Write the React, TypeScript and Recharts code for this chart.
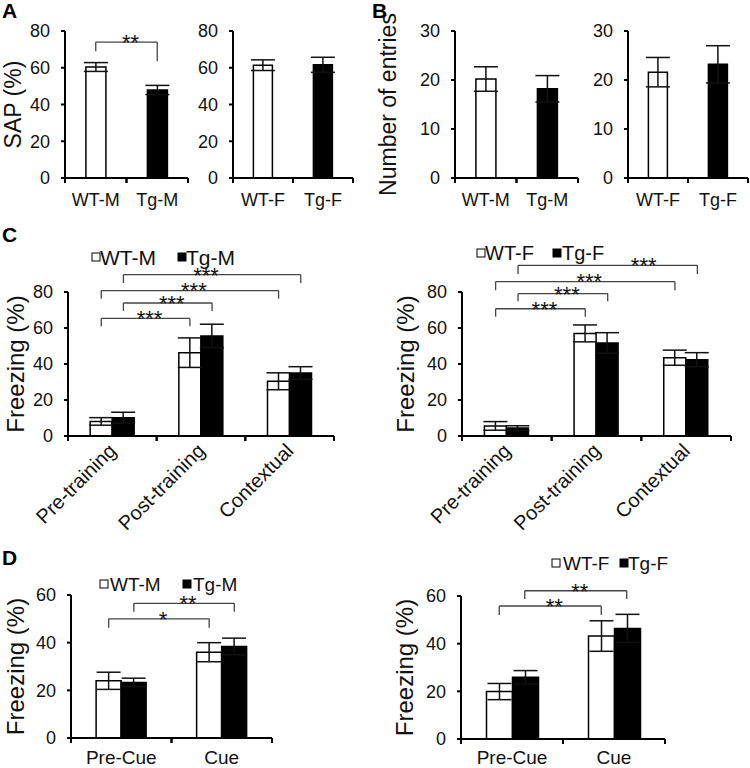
import { Bar, BarChart, Cell, ErrorBar, ReferenceLine, XAxis, YAxis } from "recharts";

const FONT = "'Liberation Sans', Arial, Helvetica, sans-serif";
const INK = "#111";

// A: spontaneous alternation (SAP %)
const groupsM = ["WT-M", "Tg-M"];
const groupsF = ["WT-F", "Tg-F"];
const sapM = [60.4, 47.9];
const sapMErr = [2.4, 2.5];
const sapF = [61.4, 61.6];
const sapFErr = [2.9, 4.1];

// B: number of entries
const entriesM = [20.2, 18.2];
const entriesMErr = [2.5, 2.7];
const entriesF = [21.6, 23.2];
const entriesFErr = [3.0, 3.8];

// C: contextual fear conditioning
const phases = ["Pre-training", "Post-training", "Contextual"];
const ctxWtM = [8.1, 46.3, 30.4];
const ctxWtMErr = [2.1, 8.2, 4.7];
const ctxTgM = [10.2, 55.6, 35.0];
const ctxTgMErr = [3.0, 6.5, 3.5];
const ctxWtF = [5.6, 57.0, 43.5];
const ctxWtFErr = [2.4, 4.7, 4.2];
const ctxTgF = [4.4, 51.7, 42.4];
const ctxTgFErr = [1.3, 5.7, 3.9];

// D: cued fear conditioning
const cues = ["Pre-Cue", "Cue"];
const cueWtM = [24.0, 36.0];
const cueWtMErr = [3.6, 4.0];
const cueTgM = [23.3, 38.4];
const cueTgMErr = [1.8, 3.5];
const cueWtF = [19.9, 43.2];
const cueWtFErr = [3.4, 6.4];
const cueTgF = [25.9, 46.4];
const cueTgFErr = [2.8, 5.9];

const ticks80 = [0, 20, 40, 60, 80];
const ticks30 = [0, 10, 20, 30];
const ticks60 = [0, 20, 40, 60];

// significance brackets: from/to category index, series index, bracket level and end levels
type Sig = { from: number; to: number; series: number; y: number; endFrom: number; endTo: number; text: string };
const sigA: Sig[] = [{ from: 0, to: 1, series: 0, y: 74, endFrom: 69, endTo: 63.5, text: "**" }];
const sigCM: Sig[] = [
  { from: 0, to: 1, series: 0, y: 65.3, endFrom: 61, endTo: 61, text: "***" },
  { from: 0, to: 1, series: 1, y: 73.9, endFrom: 69.5, endTo: 69.5, text: "***" },
  { from: 0, to: 2, series: 0, y: 80.8, endFrom: 76.3, endTo: 76.3, text: "***" },
  { from: 0, to: 2, series: 1, y: 89.6, endFrom: 85, endTo: 85, text: "***" },
];
const sigCF: Sig[] = [
  { from: 0, to: 1, series: 0, y: 70.7, endFrom: 66.3, endTo: 66.3, text: "***" },
  { from: 0, to: 1, series: 1, y: 79.1, endFrom: 74.8, endTo: 74.8, text: "***" },
  { from: 0, to: 2, series: 0, y: 85.8, endFrom: 81, endTo: 81, text: "***" },
  { from: 0, to: 2, series: 1, y: 94.8, endFrom: 90, endTo: 90, text: "***" },
];
const sigDM: Sig[] = [
  { from: 0, to: 1, series: 0, y: 50, endFrom: 46.3, endTo: 46.3, text: "*" },
  { from: 0, to: 1, series: 1, y: 56.5, endFrom: 53, endTo: 53, text: "**" },
];
const sigDF: Sig[] = [
  { from: 0, to: 1, series: 0, y: 55.8, endFrom: 52, endTo: 52, text: "**" },
  { from: 0, to: 1, series: 1, y: 62.2, endFrom: 58.7, endTo: 58.7, text: "**" },
];

// horizontal nudges (px) of the star labels, layout only
const starNudgeCM = [0, 0, 0, -10];
const starNudgeCF = [0, 0, 0, 32];

const W = 750;
const H = 768;

type Series = { values: number[]; errors: number[]; fills: string[] };
type Plot = { left: number; top: number; right: number; bottom: number };

// bracket segment drawn on the category scale, shifted from the category centre to the bar centre
const shifted = (dx: number, text?: string, tdx = 0) => (p: any) => (
  <g>
    <line x1={p.x1 + dx} y1={p.y1} x2={p.x2 + dx} y2={p.y2} stroke="#444" strokeWidth={1.3} />
    {text ? (
      <text x={(p.x1 + p.x2) / 2 + dx + 4 + tdx} y={p.y1} dy="0.36em" textAnchor="middle" fontSize={22} fill={INK} fontFamily={FONT}>
        {text}
      </text>
    ) : null}
  </g>
);

function Panel(props: {
  plot: Plot;
  categories: string[];
  series: Series[];
  domain: [number, number];
  ticks: number[];
  title: string;
  titleX: number;
  titleSize: number;
  sigs: Sig[];
  starNudge?: number[];
  catGap: number;
  rotate?: boolean;
  labelDy: number;
  labelSize: number;
}) {
  const { plot, categories, series, domain, ticks, title, titleX, titleSize, sigs, starNudge, catGap, rotate, labelDy, labelSize } = props;
  const rows = categories.map((c, i) => {
    const r: Record<string, number | string> = { name: c };
    series.forEach((s, k) => {
      r[`v${k}`] = s.values[i];
      r[`e${k}`] = s.errors[i];
    });
    return r;
  });
  const band = (plot.right - plot.left) / categories.length;
  const n = series.length;
  const shiftOf = (k: number) => (catGap + ((k + 0.5) * (1 - 2 * catGap)) / n - 0.5) * band;

  const renderTick = (p: any) => {
    const { x, y, payload } = p;
    const ax = x + 5;
    const ay = y + labelDy;
    return (
      <g>
        <line x1={x - band / 2} x2={x - band / 2} y1={y} y2={y + 5} stroke="#000" strokeWidth={2} />
        <line x1={x + band / 2} x2={x + band / 2} y1={y} y2={y + 5} stroke="#000" strokeWidth={2} />
        {rotate ? (
          <text x={ax} y={ay} transform={`rotate(-45, ${ax}, ${ay})`} textAnchor="end" fontSize={labelSize} fill={INK} fontFamily={FONT}>
            {payload.value}
          </text>
        ) : (
          <text x={x} y={y + labelDy} textAnchor="middle" fontSize={labelSize} fill={INK} fontFamily={FONT}>
            {payload.value}
          </text>
        )}
      </g>
    );
  };

  return (
    <div style={{ position: "absolute", left: 0, top: 0 }}>
      <BarChart
        width={W}
        height={H}
        data={rows}
        margin={{ top: plot.top, right: W - plot.right, bottom: H - plot.bottom - 20, left: 0 }}
        barCategoryGap={`${catGap * 100}%`}
        barGap={0}
      >
        <XAxis
          dataKey="name"
          height={20}
          tickSize={0}
          tickMargin={0}
          tickLine={false}
          interval={0}
          axisLine={{ stroke: "#000", strokeWidth: 2 }}
          tick={renderTick}
        />
        <YAxis
          width={plot.left}
          domain={domain}
          ticks={ticks}
          interval={0}
          allowDataOverflow
          tickSize={4}
          tickMargin={11}
          tick={{ fontSize: 18, fill: INK, fontFamily: FONT }}
          axisLine={{ stroke: "#000", strokeWidth: 2 }}
          tickLine={{ stroke: "#000", strokeWidth: 2 }}
          label={{
            value: title,
            angle: -90,
            position: "insideLeft",
            offset: titleX,
            fontSize: titleSize,
            fill: INK,
            fontFamily: FONT,
            style: { textAnchor: "middle" },
          }}
        />
        {series.map((s, k) => (
          <Bar key={k} dataKey={`v${k}`} fill={s.fills[0]} stroke="#000" strokeWidth={1.5} isAnimationActive={false}>
            {categories.map((_, i) => (
              <Cell key={i} fill={s.fills[i % s.fills.length]} />
            ))}
            <ErrorBar dataKey={`e${k}`} direction="y" width={12} stroke={INK} strokeWidth={1.5} />
          </Bar>
        ))}
        {sigs.flatMap((g, i) => {
          const a = categories[g.from];
          const b = categories[g.to];
          const dx = shiftOf(g.series);
          const tdx = starNudge ? starNudge[i] : 0;
          return [
            <ReferenceLine key={`h${i}`} ifOverflow="visible" segment={[{ x: a, y: g.y }, { x: b, y: g.y }]} shape={shifted(dx, g.text, tdx)} />,
            <ReferenceLine key={`l${i}`} ifOverflow="visible" segment={[{ x: a, y: g.y }, { x: a, y: g.endFrom }]} shape={shifted(dx)} />,
            <ReferenceLine key={`r${i}`} ifOverflow="visible" segment={[{ x: b, y: g.y }, { x: b, y: g.endTo }]} shape={shifted(dx)} />,
          ];
        })}
      </BarChart>
    </div>
  );
}

const WHITE = "#ffffff";
const BLACK = "#000000";

function LegendRow({ labels, boxes, texts, cy, size }: { labels: string[]; boxes: number[]; texts: number[]; cy: number; size: number }) {
  return (
    <g>
      {labels.map((l, i) => (
        <g key={l}>
          <rect x={boxes[i]} y={cy - 4} width={8} height={8} fill={i === 0 ? WHITE : BLACK} stroke="#000" strokeWidth={1} />
          <text x={texts[i]} y={cy} dy="0.36em" fontSize={size} fill={INK} fontFamily={FONT}>
            {l}
          </text>
        </g>
      ))}
    </g>
  );
}

export default function App() {
  const pair = (a: number[], ae: number[], b: number[], be: number[]): Series[] => [
    { values: a, errors: ae, fills: [WHITE] },
    { values: b, errors: be, fills: [BLACK] },
  ];
  return (
    <div style={{ position: "relative", width: W, height: H, background: "#fff", fontFamily: FONT }}>
      <style>{`body{margin:0}`}</style>
      <Panel
        plot={{ left: 65, top: 31, right: 188, bottom: 178 }}
        categories={groupsM}
        series={[{ values: sapM, errors: sapMErr, fills: [WHITE, BLACK] }]}
        domain={[0, 80]}
        ticks={ticks80}
        title="SAP (%)"
        titleX={13}
        titleSize={23}
        sigs={sigA}
        catGap={0.34}
        labelDy={28}
        labelSize={18}
      />
      <Panel
        plot={{ left: 233, top: 31, right: 353, bottom: 178 }}
        categories={groupsF}
        series={[{ values: sapF, errors: sapFErr, fills: [WHITE, BLACK] }]}
        domain={[0, 80]}
        ticks={ticks80}
        title=""
        titleX={0}
        titleSize={23}
        sigs={[]}
        catGap={0.34}
        labelDy={28}
        labelSize={18}
      />
      <Panel
        plot={{ left: 455, top: 31, right: 578, bottom: 178 }}
        categories={groupsM}
        series={[{ values: entriesM, errors: entriesMErr, fills: [WHITE, BLACK] }]}
        domain={[0, 30]}
        ticks={ticks30}
        title="Number of entries"
        titleX={388}
        titleSize={23}
        sigs={[]}
        catGap={0.34}
        labelDy={28}
        labelSize={18}
      />
      <Panel
        plot={{ left: 628, top: 31, right: 748, bottom: 178 }}
        categories={groupsF}
        series={[{ values: entriesF, errors: entriesFErr, fills: [WHITE, BLACK] }]}
        domain={[0, 30]}
        ticks={ticks30}
        title=""
        titleX={0}
        titleSize={23}
        sigs={[]}
        catGap={0.34}
        labelDy={28}
        labelSize={18}
      />
      <Panel
        plot={{ left: 68, top: 292, right: 334, bottom: 436 }}
        categories={phases}
        series={pair(ctxWtM, ctxWtMErr, ctxTgM, ctxTgMErr)}
        domain={[0, 80]}
        ticks={ticks80}
        title="Freezing (%)"
        titleX={15}
        titleSize={24}
        sigs={sigCM}
        starNudge={starNudgeCM}
        catGap={0.25}
        rotate
        labelDy={16}
        labelSize={20}
      />
      <Panel
        plot={{ left: 462, top: 292, right: 731, bottom: 436 }}
        categories={phases}
        series={pair(ctxWtF, ctxWtFErr, ctxTgF, ctxTgFErr)}
        domain={[0, 80]}
        ticks={ticks80}
        title="Freezing (%)"
        titleX={405}
        titleSize={24}
        sigs={sigCF}
        starNudge={starNudgeCF}
        catGap={0.25}
        rotate
        labelDy={16}
        labelSize={20}
      />
      <Panel
        plot={{ left: 71, top: 595, right: 272, bottom: 738 }}
        categories={cues}
        series={pair(cueWtM, cueWtMErr, cueTgM, cueTgMErr)}
        domain={[0, 60]}
        ticks={ticks60}
        title="Freezing (%)"
        titleX={15}
        titleSize={24}
        sigs={sigDM}
        catGap={0.25}
        labelDy={26}
        labelSize={19}
      />
      <Panel
        plot={{ left: 461, top: 596, right: 665, bottom: 739 }}
        categories={cues}
        series={pair(cueWtF, cueWtFErr, cueTgF, cueTgFErr)}
        domain={[0, 60]}
        ticks={ticks60}
        title="Freezing (%)"
        titleX={404}
        titleSize={24}
        sigs={sigDF}
        catGap={0.25}
        labelDy={25}
        labelSize={19}
      />
      <svg width={W} height={H} style={{ position: "absolute", left: 0, top: 0 }}>
        <g fontFamily={FONT} fontWeight="bold" fontSize={21} fill="#000">
          <text x={2} y={18}>A</text>
          <text x={372} y={18}>B</text>
          <text x={2} y={242}>C</text>
          <text x={2} y={565}>D</text>
        </g>
        <LegendRow labels={groupsM} boxes={[92, 178]} texts={[100, 186]} cy={257} size={21} />
        <LegendRow labels={groupsF} boxes={[477, 553]} texts={[485, 562]} cy={253} size={20} />
        <LegendRow labels={groupsM} boxes={[100, 183]} texts={[110, 193]} cy={584} size={19} />
        <LegendRow labels={groupsF} boxes={[552, 620]} texts={[563, 628]} cy={563} size={19} />
      </svg>
    </div>
  );
}
